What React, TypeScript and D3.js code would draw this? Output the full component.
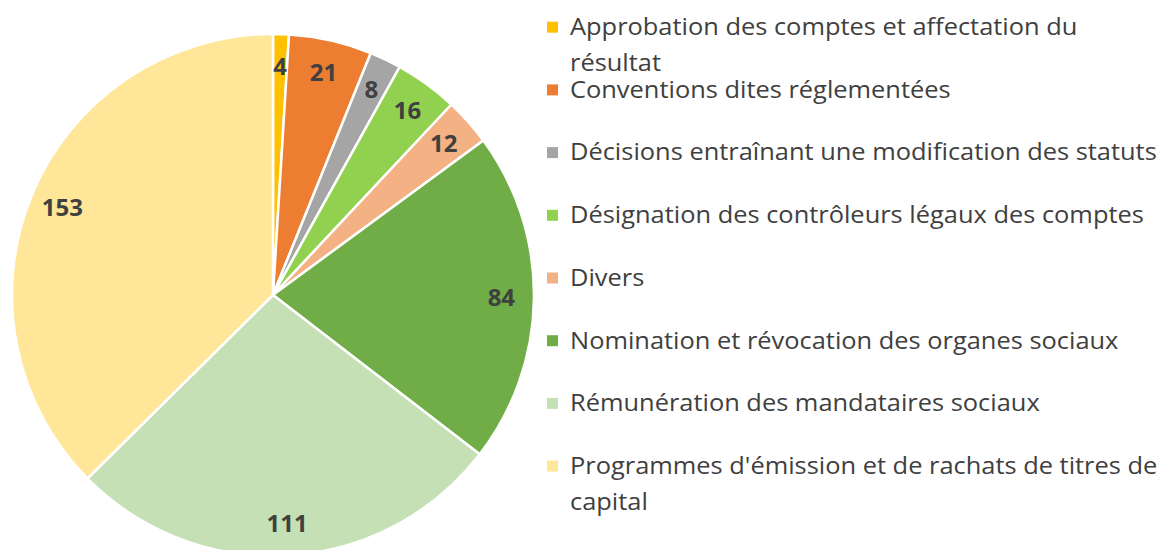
import React, { useEffect, useRef } from "react";
import * as d3 from "d3";

const categories: string[] = [
  "Approbation des comptes et affectation du résultat",
  "Conventions dites réglementées",
  "Décisions entraînant une modification des statuts",
  "Désignation des contrôleurs légaux des comptes",
  "Divers",
  "Nomination et révocation des organes sociaux",
  "Rémunération des mandataires sociaux",
  "Programmes d'émission et de rachats de titres de capital",
];
const values: number[] = [4, 21, 8, 16, 12, 84, 111, 153];
const colors: string[] = [
  "#FFC000",
  "#ED7D31",
  "#A5A5A5",
  "#92D050",
  "#F4B183",
  "#70AD47",
  "#C5E0B4",
  "#FFE699",
];

const W = 1162;
const H = 550;

export default function App() {
  const ref = useRef<SVGSVGElement | null>(null);

  useEffect(() => {
    const svg = d3.select(ref.current);
    svg.selectAll("*").remove();

    const cx = 273;
    const cy = 295;
    const r = 261;
    const labelR = r * 0.875;

    const data = values.map((v, i) => ({ v, i }));
    const pie = d3
      .pie<{ v: number; i: number }>()
      .sort(null)
      .value((d) => d.v);
    const arcs = pie(data);
    const arc = d3
      .arc<d3.PieArcDatum<{ v: number; i: number }>>()
      .innerRadius(0)
      .outerRadius(r);
    const labelArc = d3
      .arc<d3.PieArcDatum<{ v: number; i: number }>>()
      .innerRadius(labelR)
      .outerRadius(labelR);

    const g = svg.append("g").attr("transform", `translate(${cx},${cy})`);
    g.selectAll("path")
      .data(arcs)
      .join("path")
      .attr("d", arc as any)
      .attr("fill", (d) => colors[d.data.i])
      .attr("stroke", "#ffffff")
      .attr("stroke-width", 2.5)
      .attr("stroke-linejoin", "round");

    g.selectAll("text.lbl")
      .data(arcs)
      .join("text")
      .attr("class", "lbl")
      .attr("transform", (d) => {
        const [x, y] = labelArc.centroid(d);
        return `translate(${x},${y})`;
      })
      .attr("text-anchor", "middle")
      .attr("dy", "0.36em")
      .attr("font-family", "'Open Sans', sans-serif")
      .attr("font-weight", 700)
      .attr("font-size", 24)
      .attr("fill", "#404040")
      .text((d) => String(d.data.v));

    // Legend
    const fontSize = 24.5;
    const fontFamily = "'Open Sans', sans-serif";
    const legendX = 570;
    const firstBaseline = 35;
    const step = 62.7;
    const lineH = 36;
    const maxW = 595;

    const measure = svg
      .append("text")
      .attr("font-family", fontFamily)
      .attr("font-size", fontSize)
      .attr("visibility", "hidden");
    const textWidth = (s: string) => {
      measure.text(s);
      return (measure.node() as SVGTextElement).getComputedTextLength();
    };
    // Compress horizontally to mimic the narrower original typeface
    const k = 587 / textWidth(categories[2]);

    const legend = svg.append("g");
    categories.forEach((cat, i) => {
      const base = firstBaseline + i * step;
      // word wrap
      const words = cat.split(" ");
      const lines: string[] = [];
      let cur = "";
      words.forEach((w) => {
        const test = cur ? cur + " " + w : w;
        if (cur && textWidth(test) * k > maxW) {
          lines.push(cur);
          cur = w;
        } else {
          cur = test;
        }
      });
      if (cur) lines.push(cur);

      legend
        .append("rect")
        .attr("x", 547)
        .attr("y", base - 13.3)
        .attr("width", 11)
        .attr("height", 11)
        .attr("fill", colors[i]);

      lines.forEach((ln, j) => {
        legend
          .append("text")
          .attr("transform", `translate(${legendX},${base + j * lineH}) scale(${k},1)`)
          .attr("font-family", fontFamily)
          .attr("font-size", fontSize)
          .attr("fill", "#404040")
          .text(ln);
      });
    });
    measure.remove();
  }, []);

  return (
    <svg
      ref={ref}
      width={W}
      height={H}
      style={{ display: "block", position: "absolute", left: 0, top: 0, background: "#fff" }}
    />
  );
}
